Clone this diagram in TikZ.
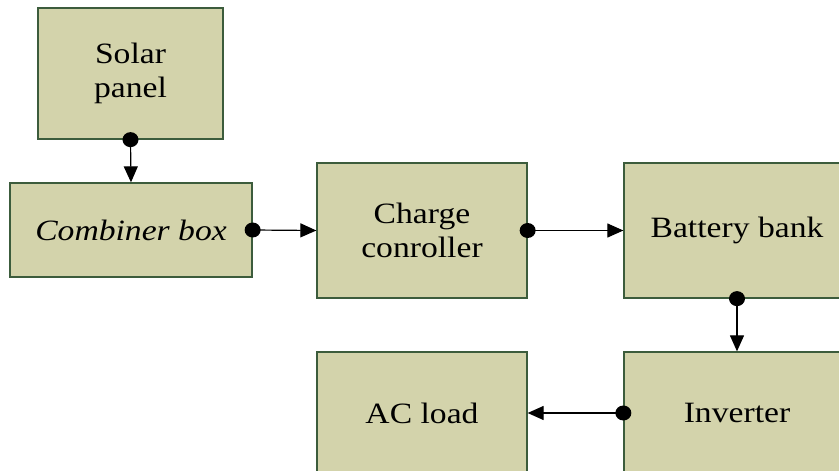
\documentclass[tikz,border=0pt]{standalone}
\usepackage{fontspec}
\setmainfont{Liberation Serif}[FakeStretch=1.14]
\usetikzlibrary{arrows.meta}
\definecolor{boxfill}{HTML}{D3D3AB}
\definecolor{boxline}{HTML}{3C5C3C}
\tikzset{
  blk/.style={draw=boxline, fill=boxfill, line width=1.3pt, align=center,
    font=\fontsize{29.5}{34}\selectfont, inner sep=0pt},
  conn/.style={draw=black, line width=1.2pt, -{Triangle[length=16pt,width=14pt]}},
  dotc/.style={fill=black}
}
\begin{document}
\begin{tikzpicture}[x=1pt,y=-1pt]
\useasboundingbox (0,0) rectangle (839,471);
\begin{scope}
\clip (0,0) rectangle (839,471);
\node[blk, minimum width=185pt, minimum height=131pt] (solar) at (130.5,73.5) {Solar\\panel};
\node[blk, minimum width=242pt, minimum height=94pt] (comb) at (131,230) {\itshape Combiner box};
\node[blk, minimum width=210pt, minimum height=135pt] (charge) at (422,230.5) {Charge\\conroller};
\node[blk, minimum width=226pt, minimum height=135pt] (batt) at (737,230.5) {Battery bank};
\node[blk, minimum width=226pt, minimum height=122pt] (inv) at (737,413) {Inverter};
\node[blk, minimum width=210pt, minimum height=122pt] (acl) at (422,413) {AC load};
\end{scope}
\draw[conn] (solar.south) -- (comb.north);
\fill[dotc] (solar.south) ellipse (8pt and 7.5pt);
\draw[conn] (comb.east) -- (charge.west);
\fill[dotc] (comb.east) ellipse (8pt and 7.5pt);
\draw[conn] (charge.east) -- (batt.west);
\fill[dotc] (charge.east) ellipse (8pt and 7.5pt);
\draw[conn] (batt.south) -- (inv.north);
\fill[dotc] (batt.south) ellipse (8pt and 7.5pt);
\draw[conn] (inv.west) -- (acl.east);
\fill[dotc] (inv.west) ellipse (8pt and 7.5pt);
\end{tikzpicture}
\end{document}
